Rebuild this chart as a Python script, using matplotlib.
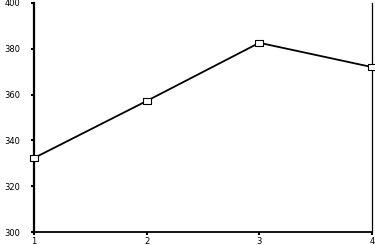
import matplotlib
matplotlib.use("Agg")
import matplotlib.pyplot as plt
from matplotlib.path import Path

x_vals = [1, 2, 3, 4]
y_vals = [332.3, 357.2, 382.6, 372.0]
y_ticks = [300, 320, 340, 360, 380, 400]

# wide hollow box marker, as in the reference
box = Path([(-1.5, -1), (1.5, -1), (1.5, 1), (-1.5, 1), (-1.5, -1)],
           [Path.MOVETO, Path.LINETO, Path.LINETO, Path.LINETO, Path.CLOSEPOLY])

fig = plt.figure(figsize=(3.75, 2.45), dpi=100)
ax = fig.add_axes([0.0907, 0.053, 0.9013, 0.935])
ax.plot(x_vals, y_vals, color="black", linewidth=1.3, marker=box,
        markersize=6, markerfacecolor="white", markeredgecolor="black",
        markeredgewidth=0.8, clip_on=False, zorder=3)
ax.set_xlim(1, 4)
ax.set_ylim(300, 400)
ax.set_xticks(x_vals)
ax.set_yticks(y_ticks)
ax.spines["top"].set_visible(False)
ax.spines["left"].set_linewidth(1.6)
ax.spines["bottom"].set_linewidth(1.3)
ax.spines["right"].set_linewidth(0.9)
ax.tick_params(axis="both", direction="out", length=2, width=1.5,
               labelsize=6, pad=1.5)
ax.tick_params(axis="y", pad=8)
fig.savefig("out.png", dpi=100)
